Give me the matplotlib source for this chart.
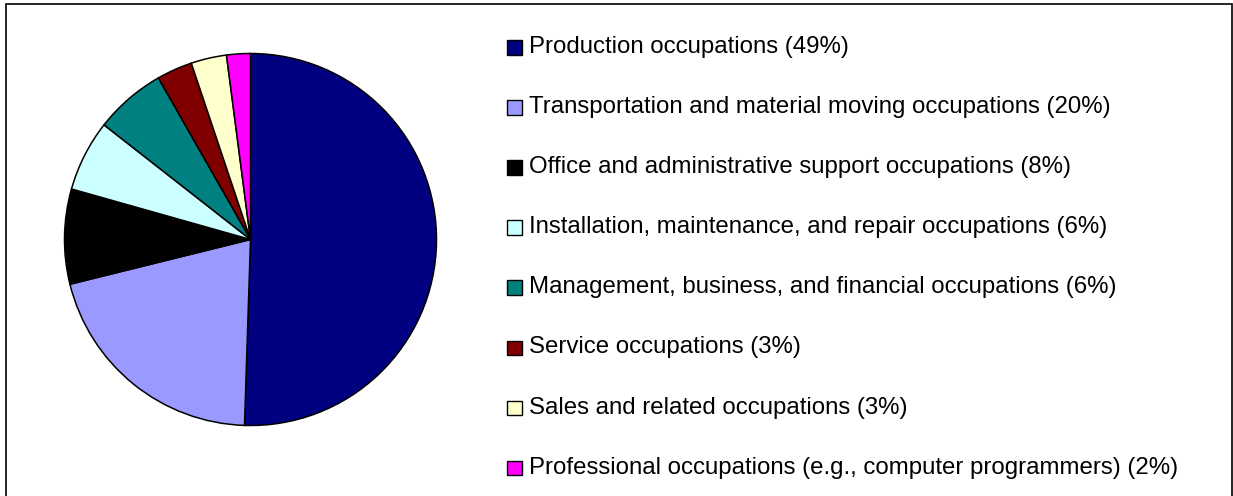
import matplotlib.pyplot as plt
from matplotlib.patches import Rectangle

labels = [
    "Production occupations (49%)",
    "Transportation and material moving occupations (20%)",
    "Office and administrative support occupations (8%)",
    "Installation, maintenance, and repair occupations (6%)",
    "Management, business, and financial occupations (6%)",
    "Service occupations (3%)",
    "Sales and related occupations (3%)",
    "Professional occupations (e.g., computer programmers) (2%)",
]
shares = [49, 20, 8, 6, 6, 3, 3, 2]
colors = ["#000080", "#9999FF", "#000000", "#CCFFFF",
          "#008080", "#800000", "#FFFFCC", "#FF00FF"]

W, H = 1233, 496
fig = plt.figure(figsize=(W / 100, H / 100), dpi=100)
plt.rcParams['font.family'] = ['Liberation Sans', 'DejaVu Sans']

# outer frame
fig.patches.append(Rectangle((5.5 / W, -0.1), (1231.5 - 5.5) / W, 1.1 - 4 / H,
                             transform=fig.transFigure, fill=False,
                             edgecolor="#000000", linewidth=1.2))

# pie
cx, cy, r = 250.5, H - 239.5, 186
ax = fig.add_axes([(cx - r) / W, (cy - r) / H, 2 * r / W, 2 * r / H])
ax.pie(shares, colors=colors, startangle=90, counterclock=False,
       wedgeprops=dict(edgecolor="black", linewidth=1.1))
ax.set_xlim(-1, 1)
ax.set_ylim(-1, 1)
ax.set_aspect("equal")
ax.axis("off")

# legend
for i, (lab, col) in enumerate(zip(labels, colors)):
    y = 46 + i * 60.1
    fig.patches.append(Rectangle((507 / W, 1 - (y + 8.5) / H), 14.5 / W, 14.5 / H,
                                 transform=fig.transFigure, facecolor=col,
                                 edgecolor="black", linewidth=1.0))
    fig.text(529 / W, 1 - (y + 1) / H, lab, fontsize=17.3, va="center", ha="left",
             color="black")

fig.savefig("out.png", dpi=100)
